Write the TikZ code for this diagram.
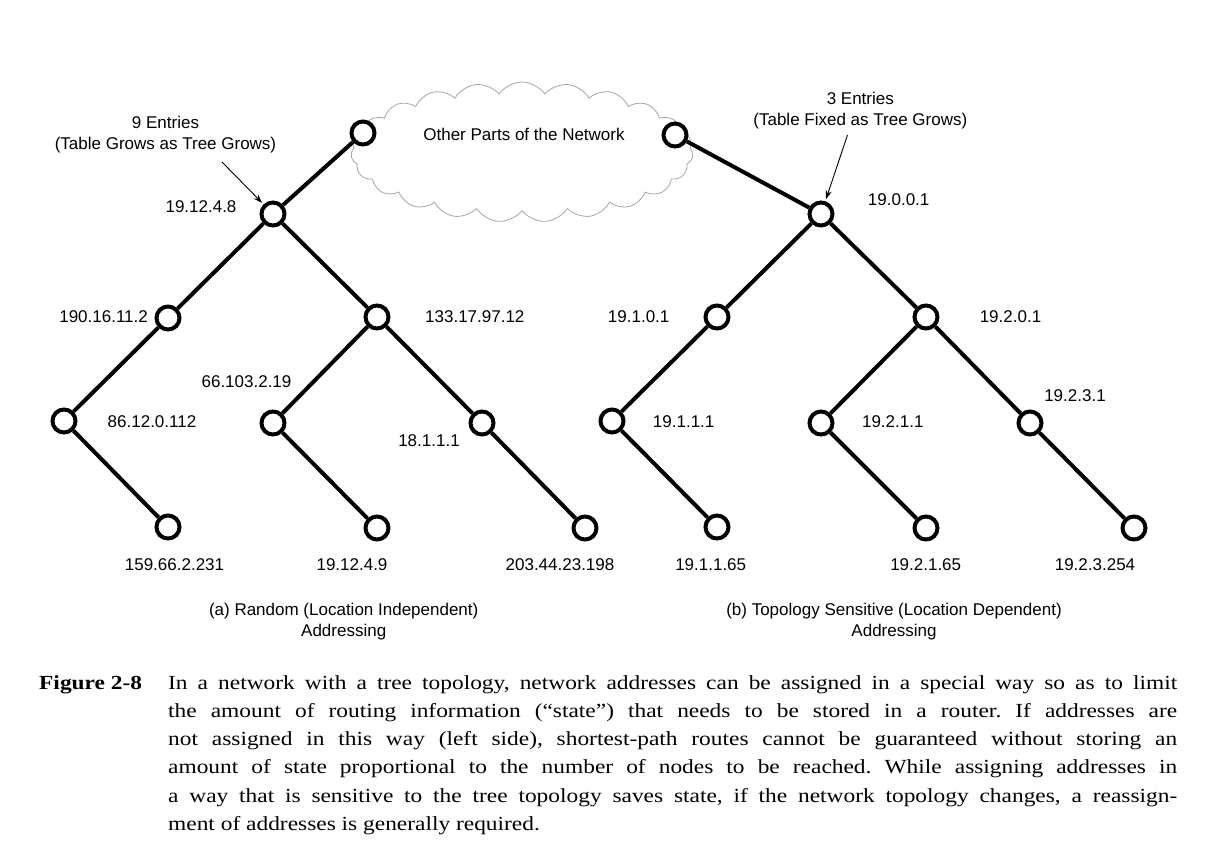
\documentclass[tikz,border=0pt]{standalone}
\usepackage{fontspec}
\setmainfont[FakeStretch=1.17]{Liberation Serif}
\newfontfamily\diagfont{Liberation Sans}
\usetikzlibrary{arrows.meta, positioning, shapes.symbols}

\begin{document}
\begin{tikzpicture}[
        x=1pt, y=-1pt,
        host/.style={draw, circle, line width=4pt, fill=white, minimum size=23pt, inner sep=0pt},
        addr/.style={font=\diagfont\fontsize{17}{21}\selectfont, inner sep=0pt},
        note/.style={addr, align=center},
        link/.style={line width=4pt},
        pointer/.style={->, line width=0.9pt, shorten >=2pt},
        captext/.style={anchor=north west, inner sep=0pt, font=\fontsize{20}{28.3}\selectfont\frenchspacing},
        >={Stealth[length=9pt, width=6pt]}
    ]
        \useasboundingbox (0,0) rectangle (1219,864);

        % Cloud
        \node[cloud, draw=gray!70, line width=0.8pt, cloud puffs=23, cloud puff arc=110, aspect=2.4,
              minimum width=342pt, minimum height=140pt] (cloud) at (522,152) {};
        \node[addr] (cloudtext) at (524,134) {Other Parts of the Network};

        % Nodes (a)
        \node[host] (atop) at (363,133) {};
        \node[host] (a1) at (273,214) {};
        \node[host] (a2) at (168,318) {};
        \node[host] (a3) at (377,317) {};
        \node[host] (a4) at (64,421) {};
        \node[host] (a5) at (273,423) {};
        \node[host] (a6) at (482,423) {};
        \node[host] (a7) at (168,527) {};
        \node[host] (a8) at (377,528) {};
        \node[host] (a9) at (585,528) {};

        % Nodes (b)
        \node[host] (btop) at (675,135) {};
        \node[host] (b1) at (821,214) {};
        \node[host] (b2) at (717,317) {};
        \node[host] (b3) at (926,317) {};
        \node[host] (b4) at (612,421) {};
        \node[host] (b5) at (821,423) {};
        \node[host] (b6) at (1030,423) {};
        \node[host] (b7) at (717,527) {};
        \node[host] (b8) at (926,528) {};
        \node[host] (b9) at (1134,528) {};

        % Links
        \draw[link] (atop) -- (a1);
        \draw[link] (a1) -- (a2);
        \draw[link] (a1) -- (a3);
        \draw[link] (a2) -- (a4);
        \draw[link] (a4) -- (a7);
        \draw[link] (a3) -- (a5);
        \draw[link] (a3) -- (a6);
        \draw[link] (a5) -- (a8);
        \draw[link] (a6) -- (a9);
        \draw[link] (btop) -- (b1);
        \draw[link] (b1) -- (b2);
        \draw[link] (b1) -- (b3);
        \draw[link] (b2) -- (b4);
        \draw[link] (b4) -- (b7);
        \draw[link] (b3) -- (b5);
        \draw[link] (b3) -- (b6);
        \draw[link] (b5) -- (b8);
        \draw[link] (b6) -- (b9);

        % Addresses (a)
        \node[addr] (la1) at (201,207) {19.12.4.8};
        \node[addr] (la2) at (103.6,317) {190.16.11.2};
        \node[addr] (la3) at (474.8,317) {133.17.97.12};
        \node[addr] (la5) at (246.5,382) {66.103.2.19};
        \node[addr] (la4) at (152,421.7) {86.12.0.112};
        \node[addr] (la6) at (429,441) {18.1.1.1};
        \node[addr] (la7) at (174.5,565) {159.66.2.231};
        \node[addr] (la8) at (352,565) {19.12.4.9};
        \node[addr] (la9) at (560,565) {203.44.23.198};

        % Addresses (b)
        \node[addr] (lb1) at (898.7,199.3) {19.0.0.1};
        \node[addr] (lb2) at (638.7,317) {19.1.0.1};
        \node[addr] (lb3) at (1010.5,317) {19.2.0.1};
        \node[addr] (lb4) at (683.7,421.7) {19.1.1.1};
        \node[addr] (lb5) at (892.8,421.7) {19.2.1.1};
        \node[addr] (lb6) at (1075,396) {19.2.3.1};
        \node[addr] (lb7) at (710.7,565) {19.1.1.65};
        \node[addr] (lb8) at (925.7,565) {19.2.1.65};
        \node[addr] (lb9) at (1095,565) {19.2.3.254};

        % Notes and pointers
        \node[note] (notea) at (165.5,135) {9 Entries\\(Table Grows as Tree Grows)};
        \node[note] (noteb) at (860.3,110.5) {3 Entries\\(Table Fixed as Tree Grows)};
        \coordinate (taila) at (222,162);
        \coordinate (tailb) at (847.5,135);
        \draw[pointer] (taila) -- (a1);
        \draw[pointer] (tailb) -- (b1);

        % Subcaptions
        \node[note] (capa) at (343.7,622) {(a) Random (Location Independent)\\Addressing};
        \node[note] (capb) at (894,622) {(b) Topology Sensitive (Location Dependent)\\Addressing};

        % Figure caption
        \node[captext] (fignum) at (39,669) {\strut\bfseries Figure 2-8};
        \node[captext, text width=1009pt, align=justify] (figcap) at (168,669)
            {\strut In a network with a tree topology, network addresses can be assigned in a special way so as to limit\linebreak
            the amount of routing information (“state”) that needs to be stored in a router. If addresses are\linebreak
            not assigned in this way (left side), shortest-path routes cannot be guaranteed without storing an\linebreak
            amount of state proportional to the number of nodes to be reached. While assigning addresses in\linebreak
            a way that is sensitive to the tree topology saves state, if the network topology changes, a reassign-\linebreak
            ment of addresses is generally required.};
    \end{tikzpicture}
\end{document}
